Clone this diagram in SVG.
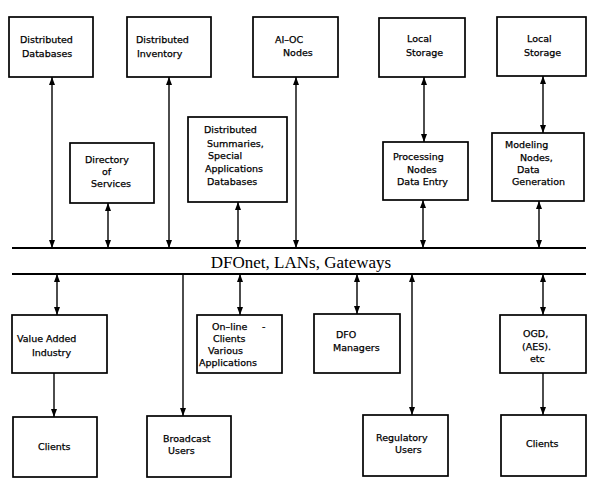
<svg xmlns="http://www.w3.org/2000/svg" width="600" height="492" viewBox="0 0 600 492">
<style>
.box{fill:#fff;stroke:#000;stroke-width:1.7}
.lbl{font-family:"DejaVu Sans",sans-serif;font-size:9.5px;fill:#000;stroke:#000;stroke-width:0.25}
.bus{font-family:"Liberation Serif",serif;font-size:17px;fill:#000}
.c{stroke:#000;stroke-width:1.4;fill:none}
.bl{stroke:#000;stroke-width:1.8}
</style>
<defs>
<marker id="ah" markerWidth="8" markerHeight="6" refX="8" refY="3" orient="auto-start-reverse" markerUnits="userSpaceOnUse" viewBox="0 0 8 6">
<path d="M0,0 L8,3 L0,6 z" fill="#000"/>
</marker>
</defs>
<rect width="600" height="492" fill="#fff"/>

<g id="bus">
<line class="bl" x1="12" y1="248" x2="586" y2="248"/>
<line class="bl" x1="12" y1="274" x2="586" y2="274"/>
<text class="bus" x="301" y="268" text-anchor="middle">DFOnet, LANs, Gateways</text>
</g>

<g id="connectors">
<line class="c" x1="52" y1="77" x2="52" y2="248" marker-start="url(#ah)" marker-end="url(#ah)"/>
<line class="c" x1="169" y1="77" x2="169" y2="248" marker-start="url(#ah)" marker-end="url(#ah)"/>
<line class="c" x1="296" y1="77" x2="296" y2="248" marker-start="url(#ah)" marker-end="url(#ah)"/>
<line class="c" x1="424" y1="77" x2="424" y2="142" marker-start="url(#ah)" marker-end="url(#ah)"/>
<line class="c" x1="543" y1="76" x2="543" y2="133" marker-start="url(#ah)" marker-end="url(#ah)"/>
<line class="c" x1="108" y1="203" x2="108" y2="248" marker-start="url(#ah)" marker-end="url(#ah)"/>
<line class="c" x1="238" y1="202" x2="238" y2="248" marker-start="url(#ah)" marker-end="url(#ah)"/>
<line class="c" x1="423" y1="200" x2="423" y2="248" marker-start="url(#ah)" marker-end="url(#ah)"/>
<line class="c" x1="539" y1="201" x2="539" y2="248" marker-start="url(#ah)" marker-end="url(#ah)"/>
<line class="c" x1="57" y1="274" x2="57" y2="315" marker-start="url(#ah)" marker-end="url(#ah)"/>
<line class="c" x1="240" y1="274" x2="240" y2="315" marker-start="url(#ah)" marker-end="url(#ah)"/>
<line class="c" x1="357" y1="274" x2="357" y2="314" marker-start="url(#ah)" marker-end="url(#ah)"/>
<line class="c" x1="543" y1="274" x2="543" y2="315" marker-start="url(#ah)" marker-end="url(#ah)"/>
<line class="c" x1="183" y1="274" x2="183" y2="416" marker-end="url(#ah)"/>
<line class="c" x1="412" y1="274" x2="412" y2="415" marker-start="url(#ah)" marker-end="url(#ah)"/>
<line class="c" x1="54" y1="373" x2="54" y2="417" marker-end="url(#ah)"/>
<line class="c" x1="543" y1="373" x2="543" y2="415" marker-end="url(#ah)"/>
</g>

<g id="dist-databases">
<rect class="box" x="9" y="17" width="84" height="60"/>
<text class="lbl" x="20" y="43">Distributed</text>
<text class="lbl" x="22" y="57">Databases</text>
</g>
<g id="dist-inventory">
<rect class="box" x="127" y="17" width="84" height="60"/>
<text class="lbl" x="136" y="43">Distributed</text>
<text class="lbl" x="137" y="57">Inventory</text>
</g>
<g id="ai-oc">
<rect class="box" x="253" y="17" width="85" height="60"/>
<text class="lbl" x="275" y="43">AI–OC</text>
<text class="lbl" x="283" y="56">Nodes</text>
</g>
<g id="local-storage-1">
<rect class="box" x="379" y="18" width="86" height="59"/>
<text class="lbl" x="407" y="42">Local</text>
<text class="lbl" x="406" y="56">Storage</text>
</g>
<g id="local-storage-2">
<rect class="box" x="497" y="17" width="89" height="59"/>
<text class="lbl" x="527" y="42">Local</text>
<text class="lbl" x="524" y="56">Storage</text>
</g>

<g id="directory">
<rect class="box" x="70" y="143" width="84" height="60"/>
<text class="lbl" x="85" y="163">Directory</text>
<text class="lbl" x="102" y="175">of</text>
<text class="lbl" x="91" y="187">Services</text>
</g>
<g id="summaries">
<rect class="box" x="188" y="117" width="99" height="85"/>
<text class="lbl" x="204" y="133">Distributed</text>
<text class="lbl" x="207" y="147">Summaries,</text>
<text class="lbl" x="208" y="159">Special</text>
<text class="lbl" x="205" y="172">Applications</text>
<text class="lbl" x="207" y="185">Databases</text>
</g>
<g id="processing">
<rect class="box" x="383" y="142" width="85" height="58"/>
<text class="lbl" x="393" y="160">Processing</text>
<text class="lbl" x="407" y="173">Nodes</text>
<text class="lbl" x="397" y="185">Data  Entry</text>
</g>
<g id="modeling">
<rect class="box" x="492" y="133" width="92" height="68"/>
<text class="lbl" x="505" y="148">Modeling</text>
<text class="lbl" x="520" y="161">Nodes,</text>
<text class="lbl" x="517" y="173">Data</text>
<text class="lbl" x="512" y="185">Generation</text>
</g>

<g id="value-added">
<rect class="box" x="12" y="315" width="95" height="58"/>
<text class="lbl" x="17" y="342">Value Added</text>
<text class="lbl" x="32" y="356">Industry</text>
</g>
<g id="online-clients">
<rect class="box" x="197" y="315" width="85" height="58"/>
<text class="lbl" x="212" y="330">On–line</text>
<text class="lbl" x="262" y="330">-</text>
<text class="lbl" x="213" y="342">Clients</text>
<text class="lbl" x="208" y="354">Various</text>
<text class="lbl" x="199" y="366">Applications</text>
</g>
<g id="dfo-managers">
<rect class="box" x="314" y="314" width="86" height="59"/>
<text class="lbl" x="336" y="338">DFO</text>
<text class="lbl" x="333" y="351">Managers</text>
</g>
<g id="ogd">
<rect class="box" x="500" y="315" width="86" height="58"/>
<text class="lbl" x="523" y="337">OGD,</text>
<text class="lbl" x="522" y="350">(AES).</text>
<text class="lbl" x="530" y="362">etc</text>
</g>

<g id="clients-1">
<rect class="box" x="13" y="417" width="84" height="60"/>
<text class="lbl" x="38" y="450">Clients</text>
</g>
<g id="broadcast">
<rect class="box" x="147" y="416" width="84" height="61"/>
<text class="lbl" x="163" y="442">Broadcast</text>
<text class="lbl" x="168" y="454">Users</text>
</g>
<g id="regulatory">
<rect class="box" x="363" y="415" width="85" height="61"/>
<text class="lbl" x="376" y="441">Regulatory</text>
<text class="lbl" x="395" y="453">Users</text>
</g>
<g id="clients-2">
<rect class="box" x="501" y="415" width="85" height="61"/>
<text class="lbl" x="526" y="447">Clients</text>
</g>
</svg>
